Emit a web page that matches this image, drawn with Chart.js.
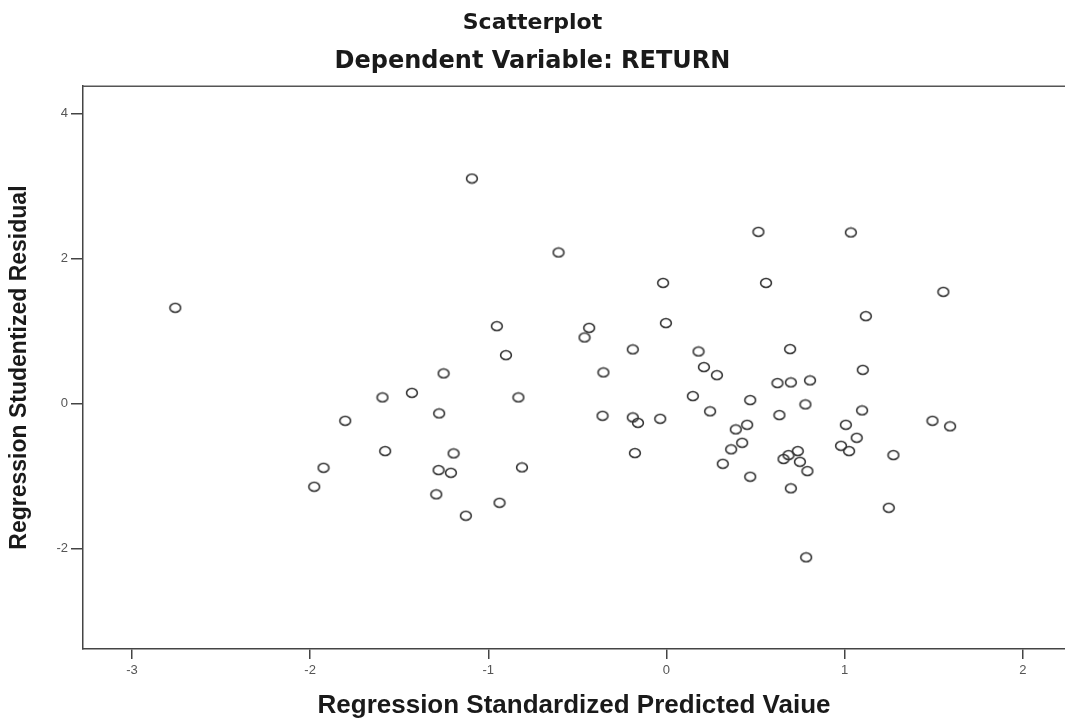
<!DOCTYPE html>
<html>
<head>
<meta charset="utf-8">
<script src="https://cdn.jsdelivr.net/npm/chart.js@4.4.0/dist/chart.umd.min.js"></script>
<style>
  body { margin: 0; background: #fff; }
  #wrap { width: 1065px; height: 719px; }
</style>
</head>
<body>
<div id="wrap"><canvas id="chart"></canvas></div>
<script>
// standardized predicted value (x) and studentized residual (y), same order
const predicted = [
  -1.092, -2.757, -0.952, -0.901, -1.251, -1.429, -1.594, -0.831, -1.276, -1.803,
  -1.579, -1.195, -1.925, -0.811, -1.279, -1.210, -1.977, -1.292, -0.937, -1.126,
  0.516, 1.035, -0.606, -0.019, 0.559, 1.554, 1.119, -0.434, -0.460, -0.003,
  -0.189, 0.180, 0.694, -0.354, 0.210, 0.283, 0.623, 0.698, 0.806, 1.102,
  0.148, 0.470, 0.780, -0.359, -0.189, -0.160, -0.035, 0.245, 0.634, 1.098,
  0.389, 0.453, 1.007, 1.493, 1.592, 0.425, 0.363, 1.068, 0.980, 1.025,
  -0.177, 0.316, 0.657, 0.685, 0.737, 0.749, 0.791, 1.274, 0.470, 0.698,
  1.248, 0.784
];
const residual = [
  3.103, 1.319, 1.066, 0.666, 0.414, 0.146, 0.083, 0.083, -0.138, -0.240,
  -0.658, -0.690, -0.888, -0.883, -0.920, -0.957, -1.150, -1.255, -1.371, -1.550,
  2.367, 2.359, 2.083, 1.663, 1.663, 1.539, 1.204, 1.043, 0.910, 1.108,
  0.745, 0.717, 0.749, 0.428, 0.501, 0.390, 0.280, 0.290, 0.317, 0.463,
  0.101, 0.046, -0.014, -0.171, -0.193, -0.268, -0.212, -0.110, -0.161, -0.097,
  -0.359, -0.295, -0.295, -0.240, -0.317, -0.543, -0.634, -0.474, -0.585, -0.658,
  -0.686, -0.833, -0.768, -0.713, -0.658, -0.806, -0.934, -0.713, -1.012, -1.172,
  -1.440, -2.124
];
const xTicks = [-3, -2, -1, 0, 1, 2];
const yTicks = [-2, 0, 2, 4];

const points = predicted.map((x, i) => ({ x: x, y: residual[i] }));

// slightly flattened ring, like the scanned markers
const ring = document.createElement("canvas");
ring.width = 14;
ring.height = 12;
const rc = ring.getContext("2d");
rc.strokeStyle = "#333";
rc.lineWidth = 1.6;
rc.beginPath();
rc.ellipse(7, 6, 5.4, 4.5, 0, 0, Math.PI * 2);
rc.stroke();

const topBorder = {
  id: "topBorder",
  afterDraw(chart) {
    const { ctx, chartArea } = chart;
    ctx.save();
    ctx.strokeStyle = "#555";
    ctx.lineWidth = 1.5;
    ctx.beginPath();
    ctx.moveTo(chartArea.left, chartArea.top);
    ctx.lineTo(chartArea.right, chartArea.top);
    ctx.stroke();
    ctx.restore();
  }
};

const tickFont = { family: "Liberation Sans", size: 13 };
const titleFont = { family: "Liberation Sans", weight: "bold" };

new Chart(document.getElementById("chart"), {
  type: "scatter",
  data: {
    datasets: [
      {
        data: points,
        pointStyle: ring,
        pointRadius: 6,
        pointHoverRadius: 6,
      },
    ],
  },
  options: {
    responsive: true,
    maintainAspectRatio: false,
    animation: false,
    events: [],
    layout: { padding: 0, autoPadding: false },
    plugins: {
      legend: { display: false },
      tooltip: { enabled: false },
      title: {
        display: true,
        text: "Scatterplot",
        color: "#1a1a1a",
        font: { family: "DejaVu Sans", weight: "bold", size: 22 },
        padding: { top: 10, bottom: 6 },
      },
      subtitle: {
        display: true,
        text: "Dependent Variable: RETURN",
        color: "#1a1a1a",
        font: { family: "DejaVu Sans", weight: "bold", size: 24 },
        padding: { top: 5, bottom: 10 },
      },
    },
    scales: {
      x: {
        type: "linear",
        min: -3.275,
        max: 2.237,
        afterBuildTicks: (scale) => {
          scale.ticks = xTicks.map((v) => ({ value: v }));
        },
        afterFit: (scale) => {
          scale.height = 70;
          scale.paddingLeft = 0;
          scale.paddingRight = 0;
        },
        grid: { drawOnChartArea: false, color: "#444", tickLength: 10, lineWidth: 1.5 },
        border: { display: true, color: "#444", width: 1.5 },
        ticks: { color: "#555", font: tickFont, padding: 4 },
        title: {
          display: true,
          text: "Regression Standardized Predicted Vaiue",
          color: "#1a1a1a",
          font: { ...titleFont, size: 26, lineHeight: 1 },
          padding: { top: 0, bottom: 0 },
        },
      },
      y: {
        type: "linear",
        min: -3.389,
        max: 4.377,
        afterBuildTicks: (scale) => {
          scale.ticks = yTicks.map((v) => ({ value: v }));
        },
        afterFit: (scale) => {
          scale.width = 83;
          scale.paddingTop = 0;
          scale.paddingBottom = 0;
        },
        grid: { drawOnChartArea: false, color: "#444", tickLength: 12, lineWidth: 1.5 },
        border: { display: true, color: "#444", width: 1.5 },
        ticks: { color: "#555", font: tickFont, padding: 3 },
        title: {
          display: true,
          text: "Regression Studentized Residual",
          color: "#1a1a1a",
          font: { ...titleFont, size: 23 },
          padding: { top: 6, bottom: 0 },
        },
      },
    },
  },
  plugins: [topBorder],
});
</script>
</body>
</html>
